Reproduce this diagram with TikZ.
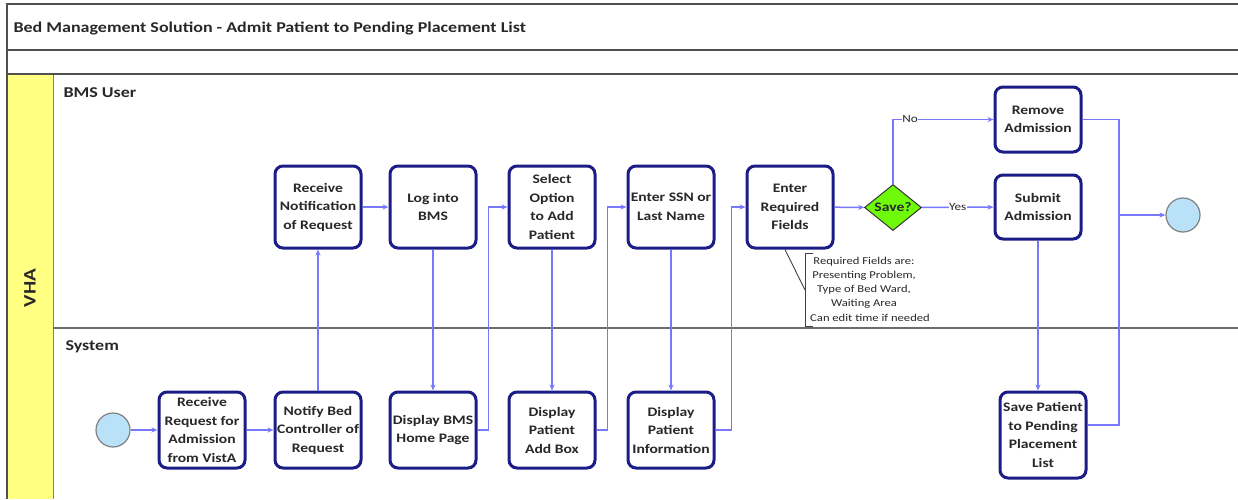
\documentclass[tikz,border=0pt]{standalone}
\usepackage{fontspec}
\setmainfont{Carlito}[FakeStretch=1.2]
\usetikzlibrary{arrows.meta,shapes.geometric}
\definecolor{navy}{RGB}{28,28,135}
\definecolor{conn}{RGB}{120,120,255}
\definecolor{framegray}{RGB}{80,80,80}
\definecolor{vhayellow}{RGB}{255,255,130}
\definecolor{startblue}{RGB}{185,225,248}
\definecolor{savegreen}{RGB}{110,250,10}
\definecolor{txt}{RGB}{40,40,40}
\begin{document}
\begin{tikzpicture}[x=1pt,y=-1pt,
  task/.style={draw=navy, line width=3pt, rounded corners=8pt, fill=white,
    minimum width=86pt, minimum height=80pt, align=center, text=txt,
    font=\fontsize{13}{18.5}\selectfont\bfseries, inner sep=1pt},
  evt/.style={circle, draw=gray, line width=1.2pt, fill=startblue, minimum size=34pt, inner sep=0pt},
  gate/.style={diamond, draw=black!80, line width=1pt, fill=savegreen, minimum width=57pt,
    minimum height=46pt, inner sep=0pt, aspect=1.25, text=txt,
    font=\fontsize{13}{15}\selectfont\bfseries},
  flow/.style={draw=conn, line width=1.5pt, -{Stealth[length=6pt,width=5pt]}},
  plain/.style={draw=conn, line width=1.5pt},
  lbl/.style={fill=white, inner sep=0.5pt, text=txt, font=\fontsize{11}{12}\selectfont},
  frame/.style={draw=framegray, line width=2.2pt},
  note/.style={align=center, text=txt, font=\fontsize{10.5}{14.3}\selectfont},
  annot/.style={draw=black!75, line width=0.9pt}
]
\useasboundingbox (0,0) rectangle (1238,499);
% pool / lanes
\fill[vhayellow] (8,75) rectangle (53,499);
\draw[draw=gray, line width=1pt] (53,74) -- (53,499);
\draw[frame] (7,499) -- (7,4) -- (1238,4);
\draw[frame] (7,50) -- (1238,50);
\draw[frame] (7,74) -- (1238,74);
\draw[draw=gray!85!black, line width=2.5pt] (53,328) -- (1238,328);
\node[anchor=west, text=txt, font=\fontsize{15}{17}\selectfont\bfseries] (title) at (10,28) {Bed Management Solution - Admit Patient to Pending Placement List};
\node[rotate=90, text=txt, font=\fontsize{17.5}{20}\selectfont\bfseries] (vha) at (30,288) {VHA};
\node[anchor=west, text=txt, font=\fontsize{15}{17}\selectfont\bfseries] (lane1) at (60,93) {BMS User};
\node[anchor=west, text=txt, font=\fontsize{15}{17}\selectfont\bfseries] (lane2) at (62,347) {System};

% nodes
\node[evt] (start) at (113,430) {};
\node[task, minimum height=76pt] (rr) at (202,430) {Receive\\Request for\\Admission\\from VistA};
\node[task, minimum height=76pt] (nb) at (318,430) {Notify Bed\\Controller of\\Request};
\node[task, minimum height=76pt] (dbms) at (433,430) {Display BMS\\Home Page};
\node[task, minimum height=76pt] (dpab) at (552,430) {Display\\Patient\\Add Box};
\node[task, minimum height=76pt] (dpi) at (671,430) {Display\\Patient\\Information};
\node[task, minimum height=86pt] (spp) at (1043,435) {Save Patient\\to Pending\\Placement\\List};
\node[task, minimum height=82pt] (rn) at (318,207) {Receive\\Notification\\of Request};
\node[task, minimum height=82pt] (log) at (433,207) {Log into\\BMS};
\node[task, minimum height=82pt] (sel) at (552,207) {Select\\Option\\to Add\\Patient};
\node[task, minimum height=82pt] (ssn) at (671,207) {Enter SSN or\\Last Name};
\node[task, minimum height=82pt] (erf) at (790,207) {Enter\\Required\\Fields};
\node[gate] (save) at (893,207.5) {Save?};
\node[task, minimum height=65pt] (rem) at (1038,119.5) {Remove\\Admission};
\node[task, minimum height=64pt] (sub) at (1038,207) {Submit\\Admission};
\node[evt] (end) at (1183,215) {};

% connectors
\draw[flow] (start) -- (rr);
\draw[flow] (rr) -- (nb);
\draw[flow] (nb) -- (rn);
\draw[flow] (rn) -- (log);
\draw[flow] (log) -- (dbms);
\draw[flow] (dbms.east) -- ++(11,0) |- (sel.west);
\draw[flow] (sel) -- (dpab);
\draw[flow] (dpab.east) -- ++(11,0) |- (ssn.west);
\draw[flow] (ssn) -- (dpi);
\draw[flow] (dpi.east) -- ++(16,0) |- (erf.west);
\draw[flow] (erf) -- (save);
\draw[flow] (save.north) |- node[lbl, pos=0.585] {No} (rem.west);
\draw[flow] (save) -- node[lbl] {Yes} (sub);
\draw[flow] (sub.south) -- (sub.south |- spp.north);
\coordinate (join) at (1119,215);
\draw[plain] (rem.east) -| (join);
\draw[plain] ([yshift=10pt]spp.east) -| (join);
\draw[flow] (join) -- (end);

% annotation
\coordinate (bt) at (805,253);
\coordinate (bb) at (805,326);
\coordinate (bm) at (805,290);
\draw[annot] ([xshift=8pt]bt) -- (bt) -- (bb) -- ([xshift=8pt]bb);
\draw[annot] ([xshift=-5pt]erf.south) -- (bm);
\node[note] (notetext) at (864,289) {Required Fields are:\\Presenting Problem,\\Type of Bed Ward,\\Waiting Area\\\hspace*{12pt}Can edit time if needed};
\end{tikzpicture}
\end{document}
